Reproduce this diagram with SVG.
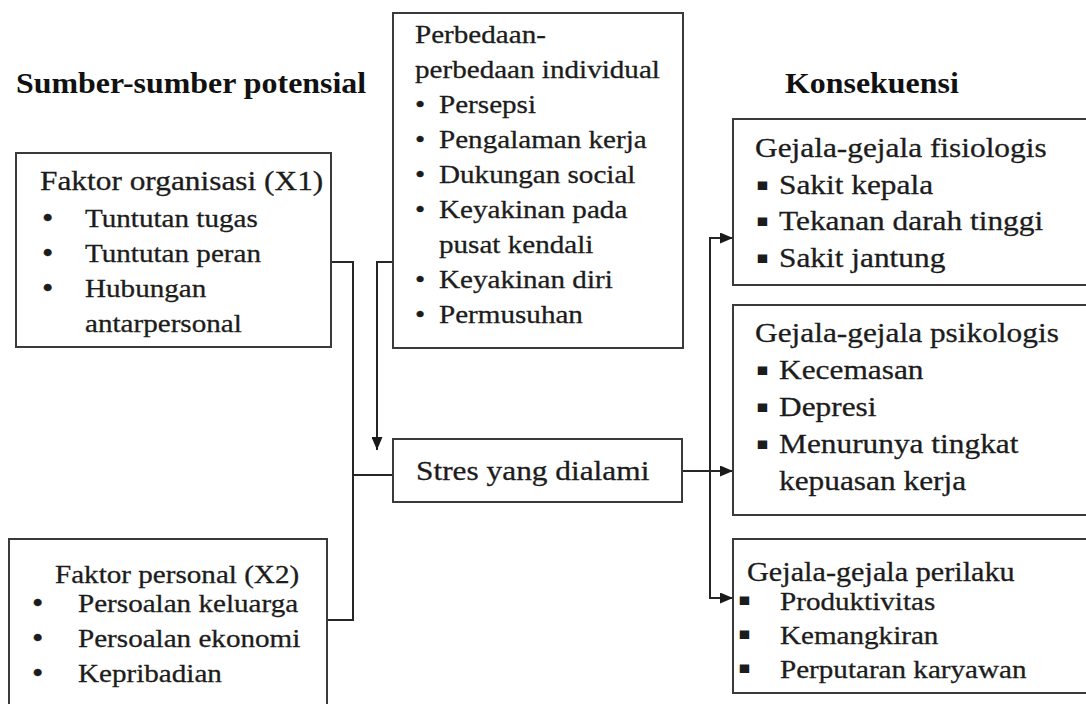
<svg xmlns="http://www.w3.org/2000/svg" width="1086" height="704" viewBox="0 0 1086 704">
  <style>
    .box { fill: #ffffff; stroke: #3a3a3a; stroke-width: 2; }
    .wire { fill: none; stroke: #262626; stroke-width: 2; }
    .tx { font-family: "Liberation Serif", "Times New Roman", serif; fill: #1c1c1c; stroke: #1c1c1c; stroke-width: 0.3; }
    .hd { font-family: "Liberation Serif", "Times New Roman", serif; font-weight: 700; font-size: 28.5px; fill: #111111; }
    .f28 { font-size: 28px; }
    .f27 { font-size: 27px; }
    .f26 { font-size: 26px; }
    .dot { font-size: 29px; }
    .sq { font-family: "DejaVu Sans", sans-serif; font-size: 17px; fill: #1c1c1c; }
  </style>
  <defs>
    <marker id="arrow" markerUnits="userSpaceOnUse" markerWidth="13" markerHeight="11" refX="13" refY="5.5" orient="auto">
      <path d="M0,0 L13,5.5 L0,11 Z" fill="#1a1a1a"/>
    </marker>
  </defs>

  <rect width="1086" height="704" fill="#ffffff"/>

  <!-- column headings -->
  <g id="heading-sources">
    <text class="hd" transform="translate(16 93) scale(1.12 1)">Sumber-sumber potensial</text>
  </g>
  <g id="heading-consequences">
    <text class="hd" transform="translate(785 93) scale(1.12 1)">Konsekuensi</text>
  </g>

  <!-- connectors -->
  <g id="connectors">
    <!-- both source factors join into one line feeding the stress box -->
    <polyline class="wire" points="331,262 353,262 353,620 327,620"/>
    <line class="wire" x1="353" y1="475" x2="393" y2="475"/>
    <!-- individual differences moderate the stress -->
    <polyline class="wire" points="393,262 377,262 377,450" marker-end="url(#arrow)"/>
    <!-- stress leads to three groups of symptoms -->
    <line class="wire" x1="682" y1="471" x2="733" y2="471" marker-end="url(#arrow)"/>
    <line class="wire" x1="710" y1="238" x2="710" y2="598"/>
    <line class="wire" x1="709" y1="238" x2="733" y2="238" marker-end="url(#arrow)"/>
    <line class="wire" x1="709" y1="598" x2="733" y2="598" marker-end="url(#arrow)"/>
  </g>

  <g id="faktor-organisasi">
    <rect class="box" x="16" y="153" width="315" height="194"/>
    <text class="tx f28" transform="translate(40 190) scale(1.12 1)">Faktor organisasi (X1)</text>
    <text class="tx dot" transform="translate(42 228) scale(1.12 1)">•</text>
    <text class="tx dot" transform="translate(42 263) scale(1.12 1)">•</text>
    <text class="tx dot" transform="translate(42 298) scale(1.12 1)">•</text>
    <text class="tx f26" transform="translate(85 227) scale(1.12 1)">Tuntutan tugas</text>
    <text class="tx f26" transform="translate(85 262) scale(1.12 1)">Tuntutan peran</text>
    <text class="tx f26" transform="translate(85 297) scale(1.12 1)">Hubungan</text>
    <text class="tx f26" transform="translate(85 332) scale(1.12 1)">antarpersonal</text>
  </g>

  <g id="faktor-personal">
    <rect class="box" x="9" y="539" width="318" height="172"/>
    <text class="tx f26" transform="translate(55 583) scale(1.12 1)">Faktor personal (X2)</text>
    <text class="tx dot" transform="translate(32 613) scale(1.12 1)">•</text>
    <text class="tx dot" transform="translate(32 648) scale(1.12 1)">•</text>
    <text class="tx dot" transform="translate(32 683) scale(1.12 1)">•</text>
    <text class="tx f26" transform="translate(78 612) scale(1.12 1)">Persoalan keluarga</text>
    <text class="tx f26" transform="translate(78 647) scale(1.12 1)">Persoalan ekonomi</text>
    <text class="tx f26" transform="translate(78 682) scale(1.12 1)">Kepribadian</text>
  </g>

  <g id="perbedaan-individual">
    <rect class="box" x="393" y="13" width="290" height="335"/>
    <text class="tx f26" transform="translate(415 43) scale(1.12 1)">Perbedaan-</text>
    <text class="tx f26" transform="translate(415 78) scale(1.12 1)">perbedaan individual</text>
    <text class="tx f26" transform="translate(415 113) scale(1.12 1)">•</text>
    <text class="tx f26" transform="translate(415 148) scale(1.12 1)">•</text>
    <text class="tx f26" transform="translate(415 183) scale(1.12 1)">•</text>
    <text class="tx f26" transform="translate(415 218) scale(1.12 1)">•</text>
    <text class="tx f26" transform="translate(415 288) scale(1.12 1)">•</text>
    <text class="tx f26" transform="translate(415 323) scale(1.12 1)">•</text>
    <text class="tx f26" transform="translate(439 113) scale(1.12 1)">Persepsi</text>
    <text class="tx f26" transform="translate(439 148) scale(1.12 1)">Pengalaman kerja</text>
    <text class="tx f26" transform="translate(439 183) scale(1.12 1)">Dukungan social</text>
    <text class="tx f26" transform="translate(439 218) scale(1.12 1)">Keyakinan pada</text>
    <text class="tx f26" transform="translate(439 253) scale(1.12 1)">pusat kendali</text>
    <text class="tx f26" transform="translate(439 288) scale(1.12 1)">Keyakinan diri</text>
    <text class="tx f26" transform="translate(439 323) scale(1.12 1)">Permusuhan</text>
  </g>

  <g id="stres">
    <rect class="box" x="393" y="439" width="289" height="63"/>
    <text class="tx f28" transform="translate(416 480) scale(1.12 1)">Stres yang dialami</text>
  </g>

  <g id="gejala-fisiologis">
    <rect class="box" x="733" y="119" width="356" height="166"/>
    <text class="tx f28" transform="translate(755 157) scale(1.12 1)">Gejala-gejala fisiologis</text>
    <text class="sq" transform="translate(756 190) scale(1.12 1)">▪</text>
    <text class="sq" transform="translate(756 226) scale(1.12 1)">▪</text>
    <text class="sq" transform="translate(756 263) scale(1.12 1)">▪</text>
    <text class="tx f28" transform="translate(779 194) scale(1.12 1)">Sakit kepala</text>
    <text class="tx f28" transform="translate(779 230) scale(1.12 1)">Tekanan darah tinggi</text>
    <text class="tx f28" transform="translate(779 267) scale(1.12 1)">Sakit jantung</text>
  </g>

  <g id="gejala-psikologis">
    <rect class="box" x="733" y="305" width="356" height="210"/>
    <text class="tx f28" transform="translate(755 342) scale(1.12 1)">Gejala-gejala psikologis</text>
    <text class="sq" transform="translate(756 375) scale(1.12 1)">▪</text>
    <text class="sq" transform="translate(756 412) scale(1.12 1)">▪</text>
    <text class="sq" transform="translate(756 449) scale(1.12 1)">▪</text>
    <text class="tx f28" transform="translate(779 379) scale(1.12 1)">Kecemasan</text>
    <text class="tx f28" transform="translate(779 416) scale(1.12 1)">Depresi</text>
    <text class="tx f28" transform="translate(779 453) scale(1.12 1)">Menurunya tingkat</text>
    <text class="tx f28" transform="translate(779 490) scale(1.12 1)">kepuasan kerja</text>
  </g>

  <g id="gejala-perilaku">
    <rect class="box" x="733" y="539" width="356" height="154"/>
    <text class="tx f27" transform="translate(747 581) scale(1.12 1)">Gejala-gejala perilaku</text>
    <text class="sq" transform="translate(738 605) scale(1.12 1)">▪</text>
    <text class="sq" transform="translate(738 639) scale(1.12 1)">▪</text>
    <text class="sq" transform="translate(738 673) scale(1.12 1)">▪</text>
    <text class="tx f26" transform="translate(780 610) scale(1.12 1)">Produktivitas</text>
    <text class="tx f26" transform="translate(780 644) scale(1.12 1)">Kemangkiran</text>
    <text class="tx f26" transform="translate(780 678) scale(1.12 1)">Perputaran karyawan</text>
  </g>
</svg>
